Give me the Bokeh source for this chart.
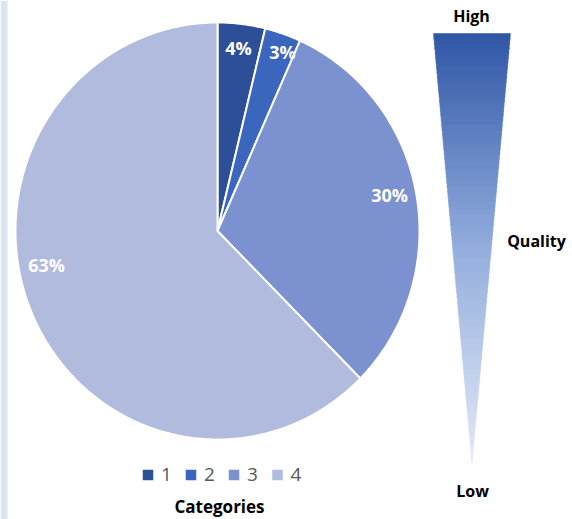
import numpy as np
from bokeh.plotting import figure
from bokeh.models import Range1d
from bokeh.core.properties import value
from bokeh.embed import file_html
from bokeh.resources import INLINE

# ---- data ----
categories = ["1", "2", "3", "4"]
shares = [3.8, 2.9, 30.8, 62.5]          # percent of pie
pct_labels = ["4%", "3%", "30%", "63%"]
colors = ["#2d4f98", "#3b66bd", "#7b91d0", "#b0bbde"]
scale_labels = ["High", "Quality", "Low"]
legend_title = "Categories"

W, H = 572, 519
FONT = value("Open Sans")
p = figure(width=W, height=H, output_backend="svg", toolbar_location=None,
           x_range=Range1d(0, W), y_range=Range1d(0, H), min_border=0)
p.axis.visible = False
p.grid.visible = False
p.outline_line_color = None
p.background_fill_color = "white"
p.border_fill_color = "white"

def Y(py):
    return H - py

# left light strip
p.quad(left=[0], right=[7], bottom=[0], top=[H], fill_color="#dbe5f1", line_color=None)

# ---- pie (slightly elliptical, as in the picture) ----
cx, cy, RX, RY = 217, Y(230.5), 202, 208.5
fr = np.array(shares) / sum(shares)
cum = np.concatenate([[0], np.cumsum(fr)])
start = np.pi / 2 - 2 * np.pi * cum[:-1]
end = np.pi / 2 - 2 * np.pi * cum[1:]
pxs, pys = [], []
for a0, a1 in zip(start, end):
    n = max(int(abs(a1 - a0) / 0.01), 4)
    t = np.linspace(a0, a1, n)
    pxs.append(np.concatenate([[cx], cx + RX * np.cos(t)]))
    pys.append(np.concatenate([[cy], cy + RY * np.sin(t)]))
p.patches(xs=pxs, ys=pys, fill_color=colors, line_color="white", line_width=2,
          line_join="miter")

mid = (start + end) / 2
ang_nudge = np.radians([0.3, -1.0, 1.3, -11.1])
rad_frac = np.array([0.90, 0.93, 0.857, 0.85])
lx = cx + RX * rad_frac * np.cos(mid + ang_nudge) * 1.015
ly = cy + RX * rad_frac * np.sin(mid + ang_nudge) * 1.015
p.text(x=lx, y=ly, text=pct_labels, text_color="white", text_font=FONT,
       text_font_style="bold", text_font_size="18px", text_align="center", text_baseline="middle")

# ---- gradient triangle ----
top_y, apex_y = Y(33), Y(463)
tl, tr, ax = 433, 510, 471.5
N = 90
stops_c = [np.array([0x2f, 0x56, 0xa6]), np.array([0x93, 0xad, 0xdd]), np.array([0xe3, 0xea, 0xf7])]
def col_at(t):
    if t <= 0.5:
        c = stops_c[0] + (stops_c[1] - stops_c[0]) * (t / 0.5)
    else:
        c = stops_c[1] + (stops_c[2] - stops_c[1]) * ((t - 0.5) / 0.5)
    return "#%02x%02x%02x" % tuple(int(round(v)) for v in c)
xs, ys, cs = [], [], []
for i in range(N):
    t0, t1 = i / N, min((i + 1) / N + 0.003, 1)
    y0 = top_y + (apex_y - top_y) * t0
    y1 = top_y + (apex_y - top_y) * t1
    l0 = tl + (ax - tl) * t0; r0 = tr + (ax - tr) * t0
    l1 = tl + (ax - tl) * t1; r1 = tr + (ax - tr) * t1
    xs.append([l0, r0, r1, l1]); ys.append([y0, y0, y1, y1]); cs.append(col_at((t0 + t1) / 2))
p.patches(xs=xs, ys=ys, fill_color=cs, line_color=cs, line_width=0.5)

p.text(x=[471, 536, 472], y=[Y(15), Y(240), Y(490)], text=scale_labels, text_color="black",
       text_font=FONT, text_font_style="bold", text_font_size="16px",
       text_align="center", text_baseline="middle")

# ---- legend ----
lgx = np.array([147.5, 190.5, 233.5, 277])
p.scatter(x=lgx, y=[Y(474.5)] * 4, marker="square", size=10.5, fill_color=colors, line_color=None)
p.text(x=lgx + 13, y=[Y(474)] * 4, text=categories, text_color="#595959",
       text_font=FONT, text_font_size="19px", text_align="left", text_baseline="middle")
p.text(x=[219], y=[Y(506)], text=[legend_title], text_color="black",
       text_font=FONT, text_font_style="bold", text_font_size="17px",
       text_align="center", text_baseline="middle")

open("out.html", "w").write(file_html(p, INLINE))
